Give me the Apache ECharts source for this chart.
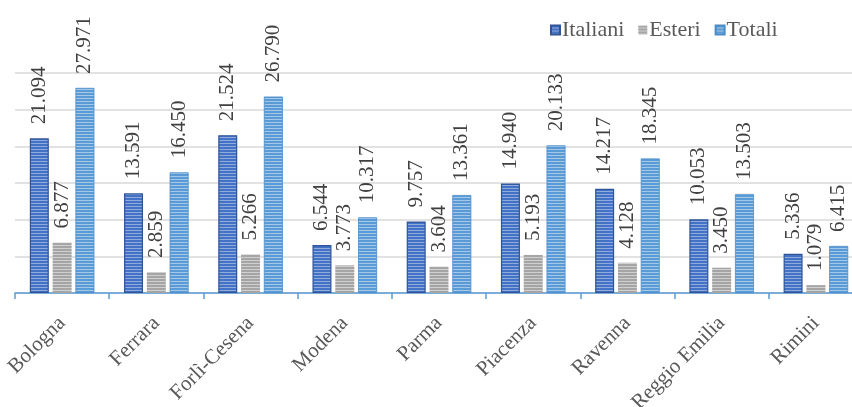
<!DOCTYPE html>
<html><head><meta charset="utf-8">
<script src="https://cdn.jsdelivr.net/npm/echarts@6/dist/echarts.min.js"></script>
<style>html,body{margin:0;padding:0;background:#fff}#c{width:852px;height:407px}</style>
</head><body><div id="c"></div>
<script>
const categories = ['Bologna','Ferrara','Forlì-Cesena','Modena','Parma','Piacenza','Ravenna','Reggio Emilia','Rimini'];
const italiani = [21094,13591,21524,6544,9757,14940,14217,10053,5336];
const esteri = [6877,2859,5266,3773,3604,5193,4128,3450,1079];
const totali = [27971,16450,26790,10317,13361,20133,18345,13503,6415];

function pat(base, light){
  const c=document.createElement('canvas'); c.width=4; c.height=3;
  const x=c.getContext('2d'); x.fillStyle=base; x.fillRect(0,0,4,3);
  x.fillStyle=light; x.fillRect(0,2,4,1);
  return {image:c, repeat:'repeat'};
}
function fmt(v){ return String(v).replace(/\B(?=(\d{3})+(?!\d))/g,'.'); }
const font='Liberation Serif';
const lbl={show:true,position:'top',rotate:90,align:'left',verticalAlign:'middle',distance:14,
  fontFamily:font,fontSize:21,color:'#404040',formatter:p=>fmt(p.value)};
const chart=echarts.init(document.getElementById('c'));
chart.setOption({
  animation:false,
  legend:{left:545,top:14,itemWidth:9,itemHeight:9,itemGap:14,icon:'rect',
    textStyle:{fontFamily:font,fontSize:22,color:'#595959',padding:[0,0,0,-3]}},
  grid:{left:15,right:-11,top:73,bottom:114,containLabel:false,outerBoundsMode:'none'},
  xAxis:{type:'category',data:categories,
    axisLine:{lineStyle:{color:'#5B9BD5',width:1.5}},
    axisTick:{show:true,length:6,lineStyle:{color:'#5B9BD5',width:1.5}},
    axisLabel:{rotate:45,margin:27,fontFamily:font,fontSize:21,color:'#595959',interval:0}},
  yAxis:{type:'value',min:0,max:30000,interval:5000,axisLabel:{show:false},axisLine:{show:false},axisTick:{show:false},
    splitLine:{lineStyle:{color:'#D9D9D9',width:1.5}}},
  series:[
    {name:'Italiani',type:'bar',data:italiani,barWidth:19,barGap:'20%',
      itemStyle:{color:pat('#4472C4','#8FAADC'),borderColor:'#2F5597',borderWidth:1.2},label:lbl},
    {name:'Esteri',type:'bar',data:esteri,barWidth:19,barGap:'20%',
      itemStyle:{color:pat('#A5A5A5','#CFCFCF')},label:lbl},
    {name:'Totali',type:'bar',data:totali,barWidth:19,barGap:'20%',
      itemStyle:{color:pat('#5B9BD5','#A4C8EA'),borderColor:'#4A8CC9',borderWidth:0.8},label:lbl}
  ]
});
</script></body></html>
